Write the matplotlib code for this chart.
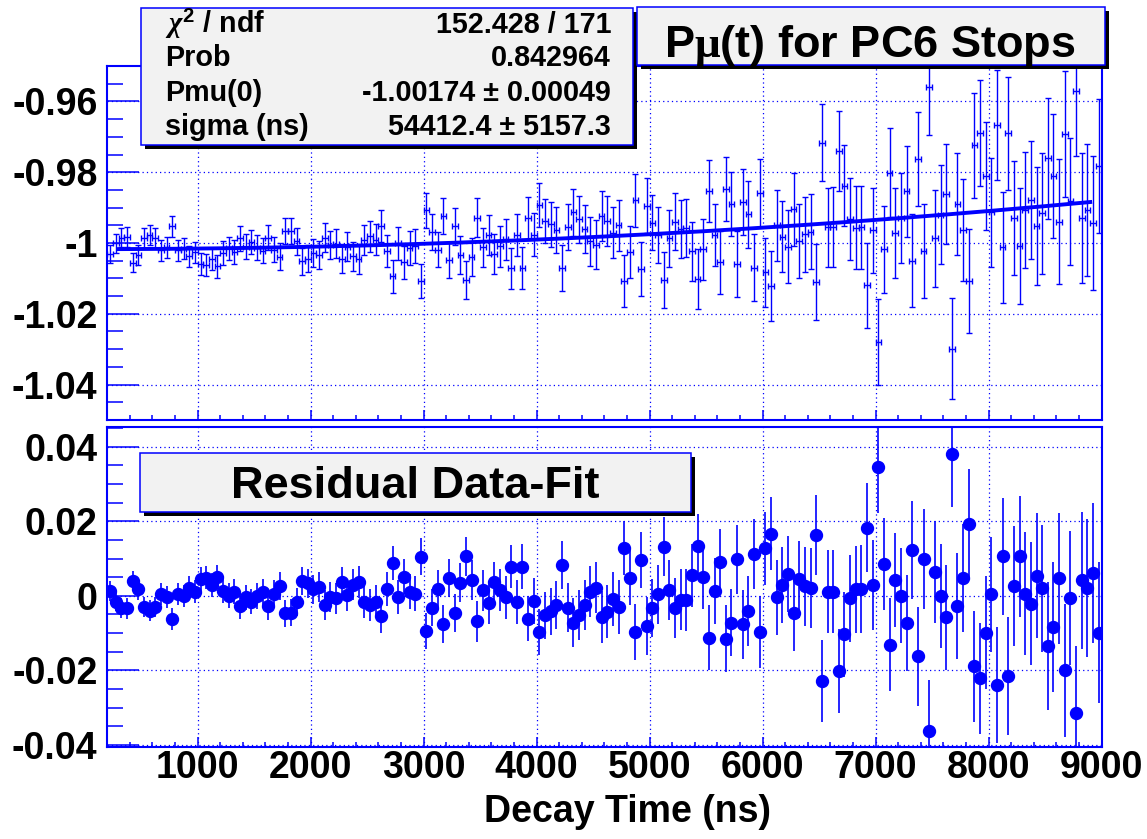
import numpy as np
import matplotlib.pyplot as plt
from matplotlib.patches import Rectangle
from matplotlib.ticker import FixedLocator, FixedFormatter, MultipleLocator

plt.rcParams['font.family'] = ['Liberation Sans', 'DejaVu Sans']
plt.rcParams['font.weight'] = 'bold'
plt.rcParams['mathtext.fontset'] = 'custom'
plt.rcParams['mathtext.rm'] = 'Liberation Serif'
plt.rcParams['mathtext.it'] = 'Liberation Serif:italic'
plt.rcParams['mathtext.bf'] = 'Liberation Sans:bold'

# 50 ns bins from 200 to 9000 ns
t_lo, t_hi, bin_w = 200, 9000, 50
t = np.arange(t_lo + bin_w / 2, t_hi, bin_w)

# residuals as drawn in the lower pad
resid = [
    0.0013, -0.0016, -0.0032, -0.0034, 0.0039, 0.0017, -0.0030, -0.0040, -0.0030, 0.0004,
    -0.0004, -0.0063, 0.0004, 0.0000, 0.0022, 0.0011, 0.0045, 0.0048, 0.0030, 0.0051,
    0.0013, 0.0000, 0.0011, -0.0027, -0.0004, -0.0016, 0.0000, 0.0009, -0.0028, 0.0006,
    0.0026, -0.0047, -0.0045, -0.0016, 0.0040, 0.0033, 0.0017, 0.0024, -0.0025, -0.0003,
    -0.0007, 0.0036, 0.0002, 0.0030, 0.0038, -0.0016, -0.0025, -0.0016, -0.0054, 0.0018,
    0.0089, -0.0003, 0.0051, 0.0011, 0.0006, 0.0105, -0.0094, -0.0032, 0.0018, -0.0077,
    0.0047, -0.0046, 0.0035, 0.0106, 0.0042, -0.0068, 0.0015, -0.0019, 0.0036, 0.0015,
    -0.0004, 0.0078, -0.0016, 0.0078, -0.0061, -0.0014, -0.0097, -0.0052, -0.0041, -0.0025,
    0.0082, -0.0032, -0.0072, -0.0052, -0.0025, 0.0011, 0.0022, -0.0058, -0.0043, -0.0009,
    -0.0030, 0.0129, 0.0048, -0.0098, 0.0096, -0.0081, -0.0032, 0.0004, 0.0132, 0.0015,
    -0.0032, -0.0010, -0.0012, 0.0055, 0.0134, 0.0051, -0.0112, 0.0013, 0.0091, -0.0115,
    -0.0072, 0.0098, -0.0077, -0.0040, 0.0112, -0.0098, 0.0127, 0.0167, -0.0004, 0.0029,
    0.0058, -0.0046, 0.0044, 0.0026, 0.0020, 0.0163, -0.0229, 0.0011, 0.0011, -0.0202,
    -0.0103, -0.0007, 0.0018, 0.0018, 0.0183, 0.0029, 0.0345, 0.0085, -0.0131, 0.0042,
    0.0000, -0.0074, 0.0123, -0.0162, 0.0098, -0.0363, 0.0064, -0.0001, -0.0058, 0.0380,
    -0.0027, 0.0048, 0.0194, -0.0189, -0.0222, -0.0099, 0.0004, -0.0240, 0.0106, -0.0215,
    0.0027, 0.0106, 0.0006, -0.0021, 0.0054, 0.0020, -0.0134, -0.0083, 0.0047, -0.0200,
    -0.0007, -0.0316, 0.0042, 0.0021, 0.0060, -0.0099,
]

err = [
    0.0026, 0.0026, 0.0027, 0.0027, 0.0027, 0.0028, 0.0028, 0.0028, 0.0028, 0.0029,
    0.0029, 0.0029, 0.0030, 0.0030, 0.0030, 0.0031, 0.0031, 0.0031, 0.0032, 0.0032,
    0.0033, 0.0033, 0.0033, 0.0034, 0.0034, 0.0034, 0.0035, 0.0035, 0.0036, 0.0036,
    0.0037, 0.0037, 0.0037, 0.0038, 0.0038, 0.0039, 0.0039, 0.0040, 0.0040, 0.0040,
    0.0041, 0.0041, 0.0042, 0.0042, 0.0043, 0.0043, 0.0044, 0.0044, 0.0045, 0.0045,
    0.0046, 0.0046, 0.0047, 0.0047, 0.0048, 0.0049, 0.0049, 0.0050, 0.0050, 0.0051,
    0.0051, 0.0052, 0.0053, 0.0053, 0.0054, 0.0055, 0.0055, 0.0056, 0.0056, 0.0057,
    0.0058, 0.0058, 0.0059, 0.0060, 0.0060, 0.0061, 0.0062, 0.0063, 0.0063, 0.0064,
    0.0065, 0.0065, 0.0066, 0.0067, 0.0068, 0.0069, 0.0069, 0.0070, 0.0071, 0.0072,
    0.0072, 0.0073, 0.0074, 0.0075, 0.0076, 0.0077, 0.0078, 0.0079, 0.0079, 0.0080,
    0.0081, 0.0082, 0.0083, 0.0084, 0.0085, 0.0086, 0.0087, 0.0088, 0.0089, 0.0090,
    0.0091, 0.0092, 0.0093, 0.0094, 0.0095, 0.0097, 0.0098, 0.0099, 0.0100, 0.0101,
    0.0102, 0.0103, 0.0104, 0.0106, 0.0107, 0.0108, 0.0109, 0.0111, 0.0112, 0.0113,
    0.0114, 0.0116, 0.0117, 0.0118, 0.0120, 0.0121, 0.0122, 0.0124, 0.0125, 0.0127,
    0.0128, 0.0129, 0.0131, 0.0133, 0.0134, 0.0136, 0.0137, 0.0139, 0.0140, 0.0142,
    0.0143, 0.0145, 0.0147, 0.0149, 0.0150, 0.0152, 0.0154, 0.0155, 0.0157, 0.0159,
    0.0161, 0.0163, 0.0164, 0.0166, 0.0168, 0.0170, 0.0172, 0.0174, 0.0176, 0.0178,
    0.0180, 0.0182, 0.0184, 0.0186, 0.0188, 0.0190,
]

# fit result (stat box)
pmu0 = -1.00174
sigma = 54412.4
fit_range = (300, 8900)
stat_names = [r"$\chi^{\mathbf{2}}$ / ndf", "Prob", "Pmu(0)", "sigma (ns)"]
stat_vals = ["152.428 / 171", "0.842964", "-1.00174 \u00b1 0.00049", "54412.4 \u00b1 5157.3"]

x_ticks = [1000, 2000, 3000, 4000, 5000, 6000, 7000, 8000, 9000]
y1_ticks = [-1.04, -1.02, -1.0, -0.98, -0.96]
y1_labels = ["-1.04", "-1.02", "-1", "-0.98", "-0.96"]
y2_ticks = [-0.04, -0.02, 0.0, 0.02, 0.04]
y2_labels = ["-0.04", "-0.02", "0", "0.02", "0.04"]


def model(x):
    return pmu0 * np.exp(-x ** 2 / (2 * sigma ** 2))


resid = np.array(resid)
err = np.array(err)
pmu = model(t) - resid   # lower pad is plotted as fit - data
tf = np.linspace(fit_range[0], fit_range[1], 300)

W, H = 1147, 839
BLUE = (0, 0, 1)
fig = plt.figure(figsize=(W / 100, H / 100), dpi=100)


def frac(x0, y0, x1, y1):
    return [x0 / W, 1 - y1 / H, (x1 - x0) / W, (y1 - y0) / H]


ax1 = fig.add_axes(frac(107.3, 66, 1101.5, 420))
ax2 = fig.add_axes(frac(107.3, 426.7, 1101.5, 747))

for ax in (ax1, ax2):
    ax.set_xlim(t_lo, t_hi)
    ax.set_axisbelow(True)
    for s in ax.spines.values():
        s.set_color(BLUE)
        s.set_linewidth(1.5)
    ax.xaxis.set_major_locator(FixedLocator(x_ticks))
    ax.xaxis.set_minor_locator(MultipleLocator(200))
    ax.yaxis.set_minor_locator(MultipleLocator(0.005))
    ax.tick_params(axis='both', which='both', direction='in', color=BLUE, width=1.1,
                   top=False, right=False, labelsize=27)
    ax.tick_params(axis='y', which='major', length=23, pad=7)
    ax.tick_params(axis='y', which='minor', length=11.5)
    ax.tick_params(axis='x', which='major', length=7, pad=2)
    ax.tick_params(axis='x', which='minor', length=3.5)
    ax.grid(True, which='major', color=BLUE, linestyle=(0, (1, 2.5)), linewidth=0.9)

# upper pad
ax1.set_ylim(-1.05, -0.95)
ax1.yaxis.set_major_locator(FixedLocator(y1_ticks))
ax1.yaxis.set_major_formatter(FixedFormatter(y1_labels))
ax1.tick_params(axis='x', labelbottom=False)
ax1.errorbar(t, pmu, yerr=err, xerr=bin_w / 2, fmt='none', ecolor=BLUE,
             elinewidth=1.0, capsize=2.5, capthick=1.0)
ax1.plot(tf, model(tf), color=BLUE, lw=2.8)

# lower pad
ax2.set_ylim(-0.0406, 0.0454)
ax2.yaxis.set_major_locator(FixedLocator(y2_ticks))
ax2.yaxis.set_major_formatter(FixedFormatter(y2_labels))
ax2.xaxis.set_major_formatter(FixedFormatter([str(v) for v in x_ticks]))
ax2.errorbar(t, resid, yerr=err, fmt='o', color=BLUE, ms=8.6, mec=BLUE,
             ecolor=BLUE, elinewidth=1.2, capsize=0)

fig.text(627 / W, 1 - 822 / H, "Decay Time (ns)", ha='center', va='baseline',
         fontsize=27, fontweight='bold')


def box(x0, y0, x1, y1):
    # shadow then box, pixel coords from top-left
    fig.patches.append(Rectangle((x0 / W + 4 / W, 1 - (y1 + 4) / H), (x1 - x0) / W, (y1 - y0) / H,
                                 transform=fig.transFigure, facecolor='black', edgecolor='none', zorder=5))
    fig.patches.append(Rectangle((x0 / W, 1 - y1 / H), (x1 - x0) / W, (y1 - y0) / H,
                                 transform=fig.transFigure, facecolor='#f2f2f2', edgecolor=BLUE,
                                 linewidth=1.1, zorder=6))


# stat box
box(141, 8, 633, 145)
rows_y = [33, 66, 101, 135]
for name, val, yb in zip(stat_names, stat_vals, rows_y):
    fig.text(165 / W, 1 - yb / H, name, ha='left', va='baseline', fontsize=20.7, zorder=7)
    fig.text(611 / W, 1 - yb / H, val, ha='right', va='baseline', fontsize=20.7, zorder=7)

# title box
box(637, 7, 1105, 65)
fig.text(870 / W, 1 - 57 / H, r"P$\mathrm{\mu}$(t) for PC6 Stops", ha='center', va='baseline',
         fontsize=32.5, zorder=7)

# residual label box
box(140, 453, 691, 512)
fig.text(415 / W, 1 - 498 / H, "Residual Data-Fit", ha='center', va='baseline',
         fontsize=32.5, zorder=7)

fig.savefig("out.png", dpi=100)
